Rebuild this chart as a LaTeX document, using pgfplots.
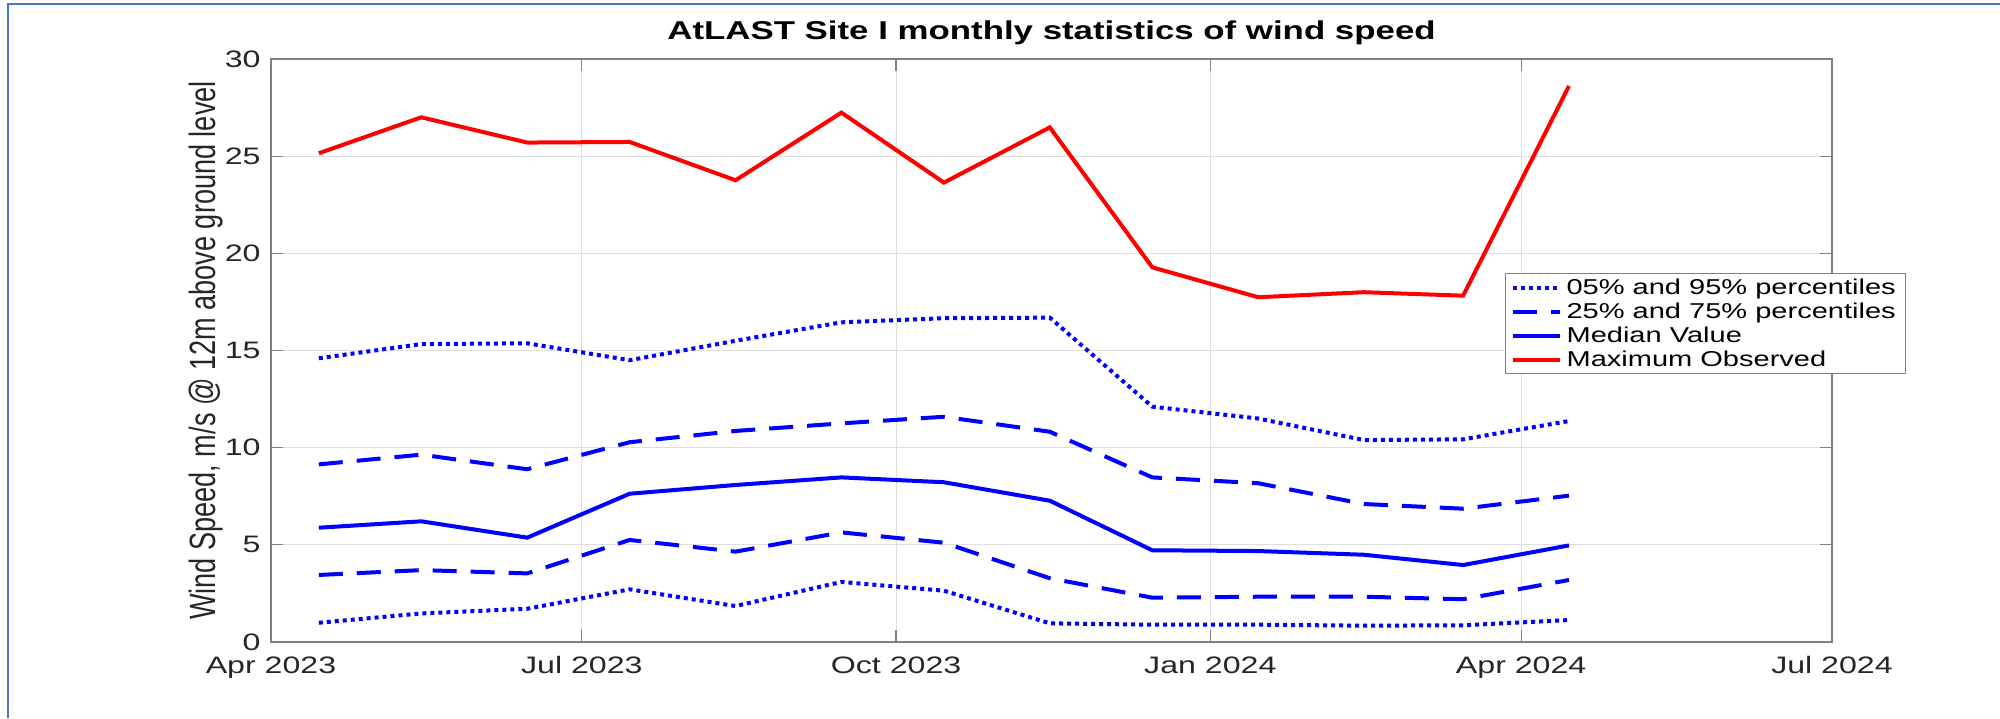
\documentclass[border=0pt]{standalone}
\usepackage{fontspec}
\setmainfont{Liberation Sans}
\newfontfamily\widefont{Liberation Sans}[FakeStretch=1.35]
\newfontfamily\narrowfont{Liberation Sans}[FakeStretch=0.741]
\usepackage{pgfplots}
\pgfplotsset{compat=1.18}
\definecolor{framecol}{RGB}{70,118,200}
\definecolor{tickcol}{RGB}{38,38,38}
\definecolor{gridcol}{RGB}{222,222,222}
\definecolor{axiscol}{RGB}{128,128,128}

\begin{document}
\begin{tikzpicture}
\useasboundingbox (0,0) rectangle (1000pt,359pt);
\draw[framecol, line width=1pt] (3.85pt,0) -- (3.85pt,357pt) -- (1000pt,357pt);
\begin{axis}[
  at={(135.5pt,38pt)}, anchor=south west,
  scale only axis, width=780.5pt, height=291.5pt,
  xmin=0, xmax=457, ymin=0, ymax=30,
  xtick={0,91,183,275,366,457},
  xticklabels={Apr 2023,Jul 2023,Oct 2023,Jan 2024,Apr 2024,Jul 2024},
  ytick={0,5,10,15,20,25,30},
  tick align=inside,
  major tick length=6pt,
  xmajorgrids, ymajorgrids,
  grid style={gridcol, line width=0.5pt},
  axis line style={axiscol, line width=0.6pt},
  tick style={axiscol, line width=0.6pt},
  /pgf/number format/assume math mode=true,
  tick label style={font=\widefont\fontsize{11.9pt}{14pt}\selectfont, text=tickcol},
  xticklabel style={anchor=north, inner sep=0pt, yshift=-7pt},
  yticklabel style={anchor=east, inner sep=0pt, xshift=-5pt},
  title={AtLAST Site I monthly statistics of wind speed},
  title style={at={(axis description cs:0.5,1)}, anchor=base, yshift=3.7pt, inner sep=0pt,
    font=\widefont\bfseries\fontsize{12.9pt}{15pt}\selectfont},
  ylabel={Wind Speed, m/s @ 12m above ground level},
  every axis y label/.style={at={(axis description cs:-0.03587,0.5)}, rotate=90, anchor=base,
    inner sep=0pt, text=tickcol, font=\narrowfont\fontsize{18.3pt}{20pt}\selectfont},
  legend style={at={(rel axis cs:0.7905,0.633)}, anchor=north west, draw=axiscol, line width=0.6pt,
    fill=white, inner xsep=2.5pt, inner ysep=1pt, row sep=0pt,
    font=\widefont\fontsize{10.75pt}{13pt}\selectfont,
    nodes={inner xsep=2.5pt, inner ysep=0pt, text height=9.5pt, text depth=2.5pt}},
  legend cell align=left,
  legend image code/.code={\draw[#1] (0pt,0pt) -- (23.5pt,0pt);},
]
% 95th percentile
\addplot[blue, line width=2pt, dash pattern=on 2pt off 2pt] coordinates {
(14,14.60) (44,15.33) (75,15.37) (105,14.50) (136,15.50) (167,16.45) (197,16.66)
(228,16.69) (258,12.11) (289,11.50) (320,10.39) (349,10.43) (380,11.37)};
\addlegendentry{05\% and 95\% percentiles}
% 75th percentile
\addplot[blue, line width=2pt, dash pattern=on 12pt off 7pt] coordinates {
(14,9.14) (44,9.64) (75,8.89) (105,10.28) (136,10.86) (167,11.25) (197,11.59)
(228,10.82) (258,8.47) (289,8.17) (320,7.10) (349,6.86) (380,7.53)};
\addlegendentry{25\% and 75\% percentiles}
% median
\addplot[blue, line width=2pt] coordinates {
(14,5.88) (44,6.21) (75,5.37) (105,7.63) (136,8.08) (167,8.47) (197,8.22)
(228,7.27) (258,4.72) (289,4.68) (320,4.49) (349,3.96) (380,4.97)};
\addlegendentry{Median Value}
% maximum
\addplot[red, line width=2pt] coordinates {
(14,25.15) (44,27.00) (75,25.70) (105,25.73) (136,23.76) (167,27.24) (197,23.64)
(228,26.48) (258,19.28) (289,17.74) (320,18.00) (349,17.82) (380,28.61)};
\addlegendentry{Maximum Observed}
% 25th percentile
\addplot[blue, line width=2pt, dash pattern=on 12pt off 7pt, forget plot] coordinates {
(14,3.45) (44,3.70) (75,3.53) (105,5.25) (136,4.65) (167,5.64) (197,5.11)
(228,3.28) (258,2.28) (289,2.33) (320,2.33) (349,2.20) (380,3.19)};
% 5th percentile
\addplot[blue, line width=2pt, dash pattern=on 2pt off 2pt, forget plot] coordinates {
(14,0.99) (44,1.47) (75,1.71) (105,2.71) (136,1.85) (167,3.09) (197,2.64)
(228,0.96) (258,0.89) (289,0.89) (320,0.84) (349,0.86) (380,1.13)};
\end{axis}
\end{tikzpicture}
\end{document}
